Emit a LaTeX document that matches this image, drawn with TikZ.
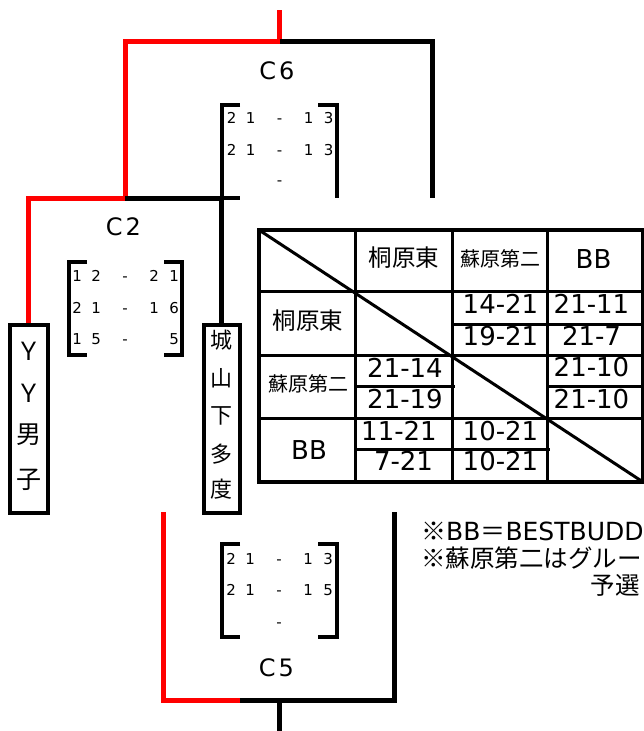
\documentclass[tikz,border=0pt]{standalone}
\usepackage{fontspec}
\setmainfont{DejaVu Sans}
\newfontfamily\jp{Noto Sans CJK JP}
\newcommand\fs[1]{\fontsize{#1}{#1}\selectfont}
\newcommand\scr[5]{\makebox[19pt]{#1}\makebox[19pt]{#2}\makebox[39pt]{#3}\makebox[19pt]{#4}\makebox[21pt]{#5}\vphantom{0}}
\begin{document}
\begin{tikzpicture}[x=1pt,y=-1pt,
  redl/.style={draw=red,line width=5pt},
  blkl/.style={draw=black,line width=5pt},
  brk/.style={draw=black,line width=4pt},
  tbl/.style={draw=black,line width=3pt},
  tblo/.style={draw=black,line width=4.5pt},
  vbox/.style={draw=black,line width=4pt,minimum width=37.5pt,minimum height=187.5pt,inner sep=0pt},
  lbl/.style={inner sep=0pt,font=\fs{24}},
  srow/.style={anchor=west,inner sep=0pt,font=\fs{15}},
  tj/.style={inner sep=0pt,font=\jp\fs{23.5}},
  tjs/.style={inner sep=0pt,font=\jp\fs{20}},
  tn/.style={inner sep=0pt,font=\fs{26}},
  vch/.style={inner sep=0pt,font=\jp\fs{25}},
  vchb/.style={inner sep=0pt,font=\jp\fs{22}},
  note/.style={inner sep=0pt,anchor=base west,font=\fs{25}}
]
\useasboundingbox (0,0) rectangle (643,731);

% ---- team boxes
\node[vbox] (yy) at (28.75,418.75) {};
\node[vbox,minimum width=36pt] (jo) at (221.5,418.75) {};
\node[vch] (yy1) at (28.75,351) {Ｙ};
\node[vch] (yy2) at (28.75,393) {Ｙ};
\node[vch] (yy3) at (28.75,435) {男};
\node[vch] (yy4) at (28.75,480) {子};
\node[vchb] (jo1) at (221.5,340) {城};
\node[vchb] (jo2) at (221.5,378) {山};
\node[vchb] (jo3) at (221.5,416) {下};
\node[vchb] (jo4) at (221.5,454) {多};
\node[vchb] (jo5) at (221.5,489) {度};

% ---- bracket connectors (top)
\coordinate (top) at (279.5,10);
\coordinate (c6j) at (279.5,41);
\coordinate (c2j) at (125,198);
\coordinate (c6r) at (432.5,198);
\draw[redl] (yy.north) |- (c2j) |- (c6j) -- (top);
\draw[blkl] (c6j) -| (c6r);
\draw[blkl] (c2j) -| (jo.north);

% ---- bracket connectors (bottom)
\coordinate (c5l) at (163.5,512);
\coordinate (c5j) at (240,700);
\coordinate (c5r) at (394.5,512);
\coordinate (c5s) at (279.5,700);
\coordinate (bot) at (279.5,733);
\draw[redl] (c5l) |- (c5j);
\draw[blkl] (c5j) -| (c5r);
\draw[blkl] (c5s) -- (bot);

% ---- labels
\node[lbl] (lc6) at (277,71) {C\hspace{3pt}6};
\node[lbl] (lc2) at (123.5,227) {C\hspace{3pt}2};
\node[lbl] (lc5) at (276.5,667.5) {C\hspace{3pt}5};

% ---- score brackets
\draw[brk] (240,104.5) -| (221.5,198) -- (240,198);
\draw[brk] (318,104.5) -| (336.5,198);
\node[srow] (s61) at (222,118.5) {\scr{2}{1}{-}{1}{3}};
\node[srow] (s62) at (222,150) {\scr{2}{1}{-}{1}{3}};
\node[srow] (s63) at (222,180) {\scr{}{}{-}{}{}};

\draw[brk] (87,261.5) -| (68.5,354.5) -- (87,354.5);
\draw[brk] (164,261.5) -| (182,354.5) -- (164,354.5);
\node[srow] (s21) at (67.5,276) {\scr{1}{2}{-}{2}{1}};
\node[srow] (s22) at (67.5,308) {\scr{2}{1}{-}{1}{6}};
\node[srow] (s23) at (67.5,339) {\scr{1}{5}{-}{}{5}};

\draw[brk] (240,543.5) -| (221.5,636.5) -- (240,636.5);
\draw[brk] (318,543.5) -| (336.5,636.5) -- (318,636.5);
\node[srow] (s51) at (221.5,559) {\scr{2}{1}{-}{1}{3}};
\node[srow] (s52) at (221.5,590) {\scr{2}{1}{-}{1}{5}};
\node[srow] (s53) at (221.5,622) {\scr{}{}{-}{}{}};

% ---- league table
\draw[tbl] (355.5,230) -- (355.5,482);
\draw[tbl] (452,230) -- (452,482);
\draw[tbl] (547.5,230) -- (547.5,482);
\draw[tbl] (259,291.5) -- (643,291.5);
\draw[tbl] (259,355) -- (643,355);
\draw[tbl] (259,418.5) -- (643,418.5);
\draw[tbl] (452,324) -- (643,324);
\draw[tbl] (355.5,386) -- (455,386);
\draw[tbl] (547.5,386) -- (643,386);
\draw[tbl] (355.5,449) -- (550,449);
\draw[tbl] (259,230) -- (643,482);
\draw[tblo] (259,230) rectangle (643,482);

\node[tj] (h1) at (404,258) {桐原東};
\node[tjs] (h2) at (500,259) {蘇原第二};
\node[tn] (h3) at (593.5,259.5) {BB};
\node[tj] (r1) at (308,320.5) {桐原東};
\node[tjs] (r2) at (308.5,383.5) {蘇原第二};
\node[tn] (r3) at (309,450) {BB};

\node[tn] (a13a) at (500.5,304) {14-21};
\node[tn] (a13b) at (500.5,336) {19-21};
\node[tn] (a14a) at (591.5,304) {21-11};
\node[tn] (a14b) at (591.5,336) {21-7};
\node[tn] (a21a) at (405,367.5) {21-14};
\node[tn] (a21b) at (405,399) {21-19};
\node[tn] (a24a) at (591.5,367.5) {21-10};
\node[tn] (a24b) at (591.5,399) {21-10};
\node[tn] (a31a) at (399,431) {11-21};
\node[tn] (a31b) at (403.5,461) {7-21};
\node[tn] (a32a) at (500.5,431) {10-21};
\node[tn] (a32b) at (500.5,461) {10-21};

% ---- notes
\node[note] (n1) at (421,540) {{\jp ※}BB{\jp ＝}BESTBUDD};
\node[note,font=\jp\fs{24.5}] (n2) at (421,567) {※蘇原第二はグルー};
\node[inner sep=0pt,font=\jp\fs{24.5}] (n3) at (615,585) {予選};
\end{tikzpicture}
\end{document}
